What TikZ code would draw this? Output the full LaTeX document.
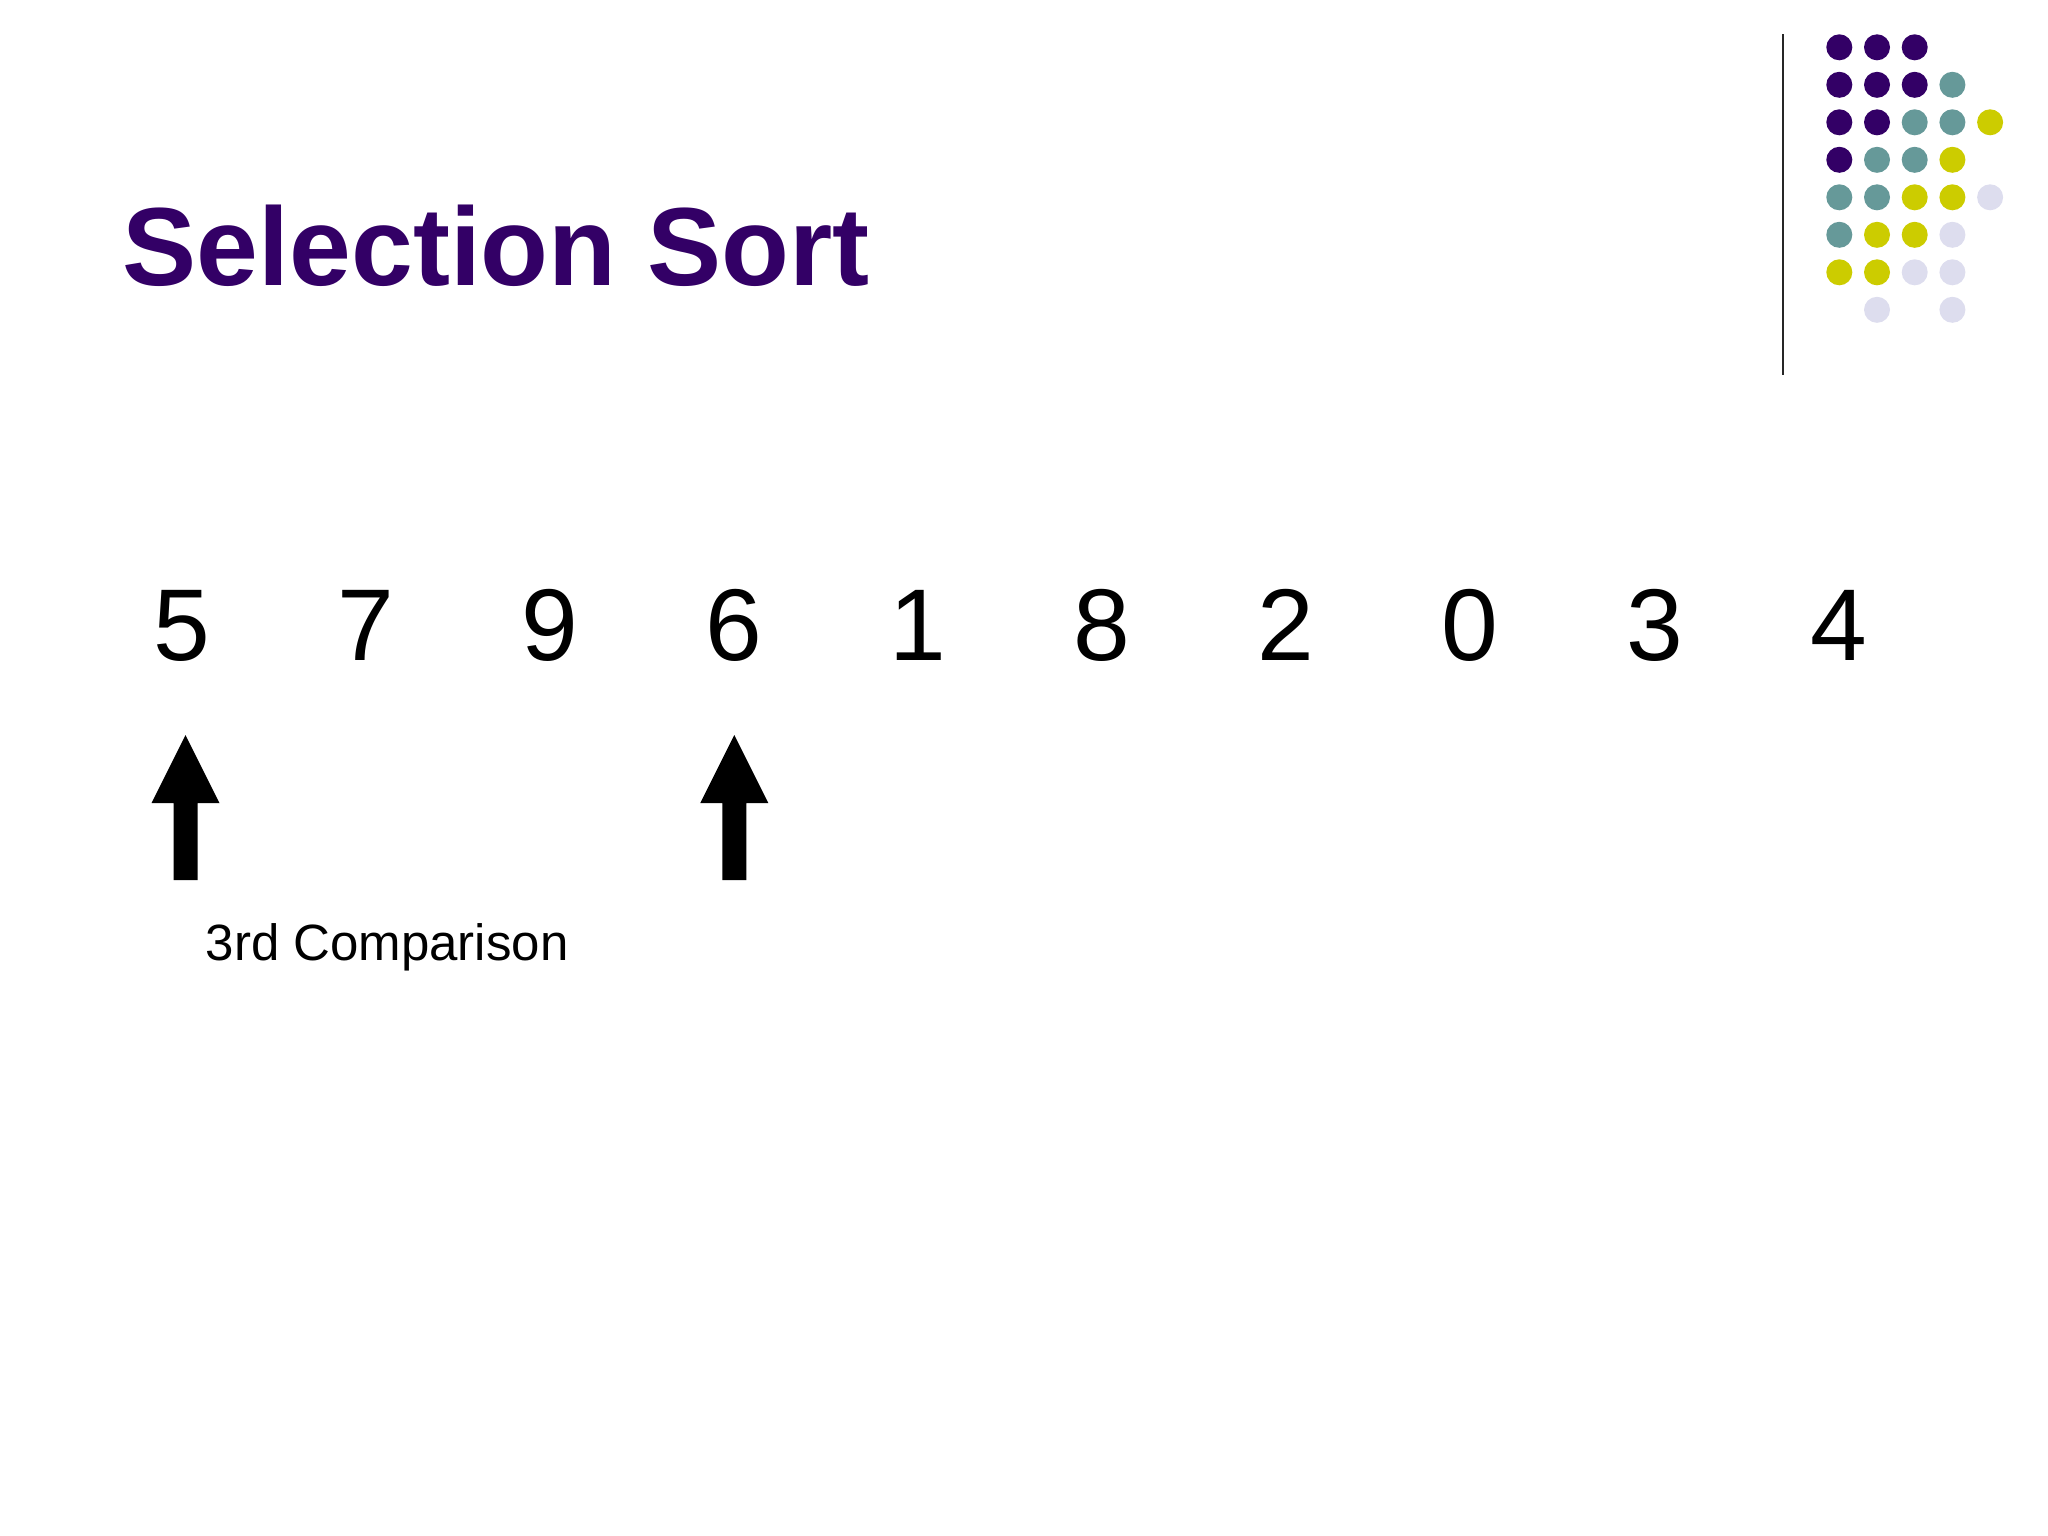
\documentclass[tikz,border=0pt]{standalone}
\usepackage{fontspec}
\setmainfont{Liberation Sans}
\usetikzlibrary{positioning,calc}

\definecolor{slidepurple}{HTML}{330066}
\definecolor{slideteal}{HTML}{669999}
\definecolor{slideyellow}{HTML}{CCCC00}
\definecolor{slidelilac}{HTML}{DDDDEE}

\begin{document}
\begin{tikzpicture}[x=0.01cm,y=-0.01cm,node distance=1.84cm,
    digit/.style={inner sep=0pt,text height=20.9pt,text depth=0pt,
      font=\fontsize{29}{29}\selectfont},
    dot/.style={circle,inner sep=0pt,minimum size=0.26cm},
    pointer/.style={fill=black}]
    \useasboundingbox (0,0) rectangle (2048,1536);

    % title and the rule beside the dots
    \node[anchor=base west,inner sep=0pt,text=slidepurple,
      font=\fontsize{31.6}{32}\selectfont\bfseries] (title) at (122,285) {Selection Sort};
    \draw[line width=0.02cm,black!85] (1783,34) -- (1783,375);

    \foreach \r/\cl in {1/{slidepurple,slidepurple,slidepurple},
                        2/{slidepurple,slidepurple,slidepurple,slideteal},
                        3/{slidepurple,slidepurple,slideteal,slideteal,slideyellow},
                        4/{slidepurple,slideteal,slideteal,slideyellow},
                        5/{slideteal,slideteal,slideyellow,slideyellow,slidelilac},
                        6/{slideteal,slideyellow,slideyellow,slidelilac},
                        7/{slideyellow,slideyellow,slidelilac,slidelilac},
                        8/{none,slidelilac,none,slidelilac}}
      \foreach \c [count=\k] in \cl
        \node[dot,fill=\c] (dot-\r-\k) at ({1839.3+(\k-1)*37.7},{47.3+(\r-1)*37.5}) {};

    % the list
    \node[digit] (n5) at (181.5,624) {5};
    \node[digit] (n7) [right of=n5] {7};
    \node[digit] (n9) [right of=n7] {9};
    \node[digit] (n6) [right of=n9] {6};
    \node[digit] (n1) [right of=n6] {1};
    \node[digit] (n8) [right of=n1] {8};
    \node[digit] (n2) [right of=n8] {2};
    \node[digit] (n0) [right of=n2] {0};
    \node[digit] (n3) [right of=n0] {3};
    \node[digit] (n4) [right of=n3] {4};

    % pointers
    \coordinate (tipA) at (185.5,735);
    \coordinate (tipB) at ($(n6.center |- tipA)+(0.5,0)$);
    \fill[pointer] (tipA) -- ++(34,68) -- ++(-22,0) -- ++(0,77) -- ++(-24,0)
      -- ++(0,-77) -- ++(-22,0) -- cycle;
    \fill[pointer] (tipB) -- ++(34,68) -- ++(-22,0) -- ++(0,77) -- ++(-24,0)
      -- ++(0,-77) -- ++(-22,0) -- cycle;

    \node[anchor=base west,inner sep=0pt,font=\fontsize{14.5}{15}\selectfont]
      (cmp) at (205,960) {3rd Comparison};
\end{tikzpicture}
\end{document}
